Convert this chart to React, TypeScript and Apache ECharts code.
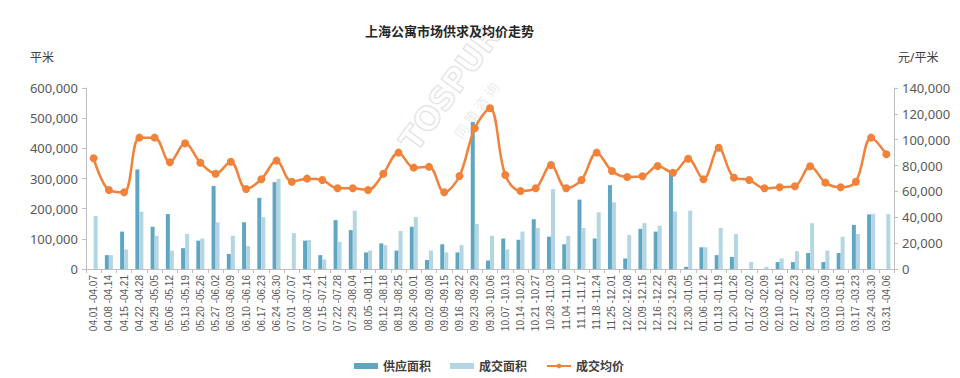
import React, { useEffect, useRef } from "react";
import * as echarts from "echarts";

const categories = [
  "04.01 -04.07", "04.08 -04.14", "04.15 -04.21", "04.22 -04.28", "04.29 -05.05",
  "05.06 -05.12", "05.13 -05.19", "05.20 -05.26", "05.27 -06.02", "06.03 -06.09",
  "06.10 -06.16", "06.17 -06.23", "06.24 -06.30", "07.01 -07.07", "07.08 -07.14",
  "07.15 -07.21", "07.22 -07.28", "07.29 -08.04", "08.05 -08.11", "08.12 -08.18",
  "08.19 -08.25", "08.26 -09.01", "09.02 -09.08", "09.09 -09.15", "09.16 -09.22",
  "09.23 -09.29", "09.30 -10.06", "10.07 -10.13", "10.14 -10.20", "10.21 -10.27",
  "10.28 -11.03", "11.04 -11.10", "11.11 -11.17", "11.18 -11.24", "11.25 -12.01",
  "12.02 -12.08", "12.09 -12.15", "12.16 -12.22", "12.23 -12.29", "12.30 -01.05",
  "01.06 -01.12", "01.13 -01.19", "01.20 -01.26", "01.27 -02.02", "02.03 -02.09",
  "02.10 -02.16", "02.17 -02.23", "02.24 -03.02", "03.03 -03.09", "03.10 -03.16",
  "03.17 -03.23", "03.24 -03.30", "03.31 -04.06",
];

const supplyArea = [
  0, 46000, 124000, 330000, 140000, 182000, 69000, 94000, 275000, 50000,
  155000, 236000, 288000, 0, 94000, 46000, 162000, 129000, 55000, 85000,
  61000, 140000, 30000, 82000, 55000, 487000, 28000, 101000, 97000, 165000,
  107000, 82000, 230000, 101000, 278000, 35000, 133000, 124000, 328000, 7000,
  72000, 46000, 40000, 0, 0, 23000, 23000, 53000, 23000, 53000,
  146000, 181000, 0,
];

const dealArea = [
  176000, 46000, 65000, 190000, 110000, 61000, 116000, 101000, 155000, 110000,
  76000, 172000, 299000, 119000, 96000, 32000, 90000, 193000, 61000, 79000,
  126000, 172000, 61000, 55000, 79000, 149000, 110000, 65000, 124000, 136000,
  265000, 110000, 136000, 188000, 221000, 113000, 152000, 143000, 191000, 193000,
  72000, 136000, 116000, 23000, 7000, 35000, 59000, 152000, 61000, 107000,
  116000, 182000, 182000,
];

const avgPrice = [
  85600, 61100, 59300, 101600, 101600, 82500, 97200, 82200, 73700, 83000,
  61900, 69400, 83800, 67500, 69900, 68800, 62400, 62400, 61100, 73700,
  90000, 78400, 79000, 59300, 71900, 108800, 124300, 72700, 60300, 62400,
  80400, 62400, 68800, 90000, 75800, 71200, 71700, 79700, 74500, 85300,
  69400, 93800, 70700, 68800, 62400, 63200, 64000, 79500, 66800, 63200,
  67500, 101600, 88700,
];

const seriesNames = ["供应面积", "成交面积", "成交均价"];
const titleText = "上海公寓市场供求及均价走势";
const leftUnit = "平米";
const rightUnit = "元/平米";
const watermarkLatin = "TOSPUR";
const watermarkCjk = "同 策 咨 询";

const FONT = "'Noto Sans', 'Noto Sans CJK SC', sans-serif";
const AXIS_COLOR = "#BFBFBF";
const LABEL_COLOR = "#595959";

export default function App() {
  const ref = useRef<HTMLDivElement>(null);

  useEffect(() => {
    if (!ref.current) return;
    const chart = echarts.init(ref.current, undefined, { renderer: "svg" });
    chart.setOption({
      animation: false,
      backgroundColor: "#ffffff",
      textStyle: { fontFamily: FONT },
      title: {
        text: titleText,
        left: 360,
        top: 19,
        textStyle: { fontSize: 13, fontWeight: "bold", color: "#262626", fontFamily: FONT },
      },
      graphic: [
        {
          type: "text",
          left: 30,
          top: 51,
          style: { text: leftUnit, fontSize: 12, fill: "#404040", fontFamily: FONT },
        },
        {
          type: "text",
          left: 898,
          top: 51,
          style: { text: rightUnit, fontSize: 12, fill: "#404040", fontFamily: FONT },
        },
        {
          type: "text",
          x: 450,
          y: 88,
          rotation: Math.PI * 0.3,
          silent: true,
          z: -1,
          style: {
            text: watermarkLatin,
            fontSize: 32,
            fontWeight: "bold",
            fill: "rgba(0,0,0,0)",
            stroke: "rgba(150,150,150,0.25)",
            lineWidth: 1.5,
            align: "center",
            verticalAlign: "middle",
            fontFamily: "'DejaVu Sans', sans-serif",
          },
        },
        {
          type: "text",
          x: 476,
          y: 110,
          rotation: Math.PI * 0.3,
          silent: true,
          z: -1,
          style: {
            text: watermarkCjk,
            fontSize: 14,
            fill: "rgba(150,150,150,0.2)",
            align: "center",
            verticalAlign: "middle",
            fontFamily: "'Noto Sans CJK SC', sans-serif",
          },
        },
      ],
      legend: {
        left: 349,
        top: 355,
        itemWidth: 24,
        itemHeight: 6,
        itemGap: 19,
        textStyle: { fontSize: 12, fontWeight: "bold", color: "#404040", fontFamily: FONT },
        data: [
          { name: seriesNames[0], icon: "rect" },
          { name: seriesNames[1], icon: "rect" },
          { name: seriesNames[2] },
        ],
      },
      grid: { left: 86, right: 66, top: 88, bottom: 109 },
      xAxis: {
        type: "category",
        data: categories,
        boundaryGap: true,
        axisLine: { lineStyle: { color: AXIS_COLOR } },
        axisTick: { show: true, alignWithLabel: false, interval: 0, length: 4, lineStyle: { color: AXIS_COLOR } },
        axisLabel: {
          interval: 0,
          rotate: 90,
          fontSize: 10,
          margin: 6,
          color: LABEL_COLOR,
          fontFamily: "'Liberation Sans', sans-serif",
        },
      },
      yAxis: [
        {
          type: "value",
          min: 0,
          max: 600000,
          interval: 100000,
          axisLine: { show: true, lineStyle: { color: AXIS_COLOR } },
          axisTick: { show: true, length: 4, lineStyle: { color: AXIS_COLOR } },
          splitLine: { show: false },
          axisLabel: {
            fontSize: 13,
            color: LABEL_COLOR,
            margin: 8,
            formatter: (v: number) => v.toLocaleString("en-US"),
          },
        },
        {
          type: "value",
          min: 0,
          max: 140000,
          interval: 20000,
          position: "right",
          axisLine: { show: true, lineStyle: { color: AXIS_COLOR } },
          axisTick: { show: true, length: 4, lineStyle: { color: AXIS_COLOR } },
          splitLine: { show: false },
          axisLabel: { fontSize: 13, color: LABEL_COLOR, margin: 8 },
        },
      ],
      series: [
        {
          name: seriesNames[0],
          type: "bar",
          data: supplyArea,
          barWidth: 4,
          barGap: "0%",
          itemStyle: { color: "#5FA6C3" },
        },
        {
          name: seriesNames[1],
          type: "bar",
          data: dealArea,
          barWidth: 4,
          barGap: "0%",
          itemStyle: { color: "#B3D6E2" },
        },
        {
          name: seriesNames[2],
          type: "line",
          yAxisIndex: 1,
          data: avgPrice,
          smooth: 0.35,
          symbol: "circle",
          symbolSize: 8,
          lineStyle: { width: 2.5, color: "#F0823A" },
          itemStyle: { color: "#F0823A" },
        },
      ],
    });
    return () => chart.dispose();
  }, []);

  return (
    <div
      ref={ref}
      style={{ position: "fixed", left: 0, top: 0, width: 960, height: 378 }}
    />
  );
}
